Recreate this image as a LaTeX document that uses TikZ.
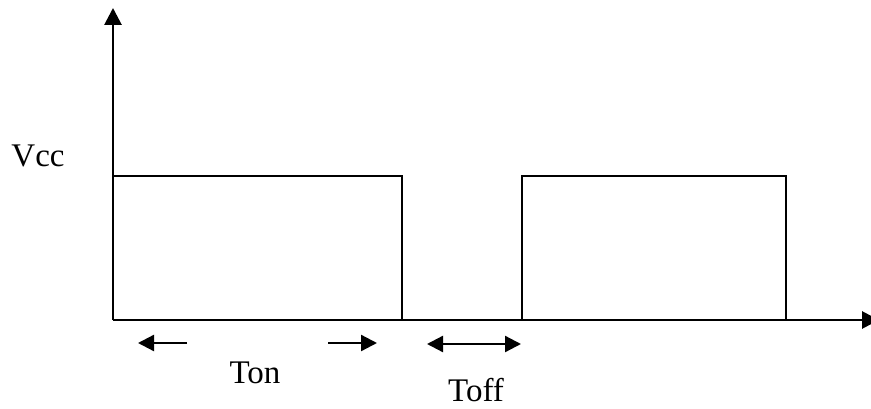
\documentclass[tikz,border=0pt]{standalone}
\usepackage{fontspec}
\setmainfont{Liberation Serif}
\usetikzlibrary{arrows.meta}
\begin{document}
\begin{tikzpicture}[x=1pt,y=-1pt,
  axis/.style={line width=2.8pt,-{Triangle[length=17pt,width=17pt]}},
  wave/.style={line width=2.3pt},
  dim/.style={line width=2.3pt,-{Triangle[length=16pt,width=16pt]}},
  ddim/.style={line width=2.3pt,{Triangle[length=16pt,width=16pt]}-{Triangle[length=16pt,width=16pt]}},
  lbl/.style={font=\fontsize{33}{38}\selectfont,anchor=base,inner sep=0pt}]
\useasboundingbox (0,0) rectangle (871,409);
\coordinate (O) at (113,320);
\coordinate (Ytop) at (113,8);
\coordinate (Xend) at (879,320);
\coordinate (p1a) at (113,176);
\coordinate (p1b) at (402,176);
\coordinate (p1c) at (402,320);
\coordinate (p2a) at (522,320);
\coordinate (p2b) at (522,176);
\coordinate (p2c) at (786,176);
\coordinate (p2d) at (786,320);
\coordinate (a1s) at (187,343);
\coordinate (a1e) at (138,343);
\coordinate (a2s) at (328,343);
\coordinate (a2e) at (377,343);
\coordinate (a3s) at (427,344);
\coordinate (a3e) at (521,344);
\draw[axis] (O) -- (Ytop);
\draw[axis] (O) -- (Xend);
\draw[wave] (p1a) -- (p1b) -- (p1c);
\draw[wave] (p2a) -- (p2b) -- (p2c) -- (p2d);
\draw[dim] (a1s) -- (a1e);
\draw[dim] (a2s) -- (a2e);
\draw[ddim] (a3s) -- (a3e);
\node[lbl] (vcc) at (38,167) {Vcc};
\node[lbl] (ton) at (255,383) {Ton};
\node[lbl] (toff) at (476,401) {Toff};
\end{tikzpicture}
\end{document}
